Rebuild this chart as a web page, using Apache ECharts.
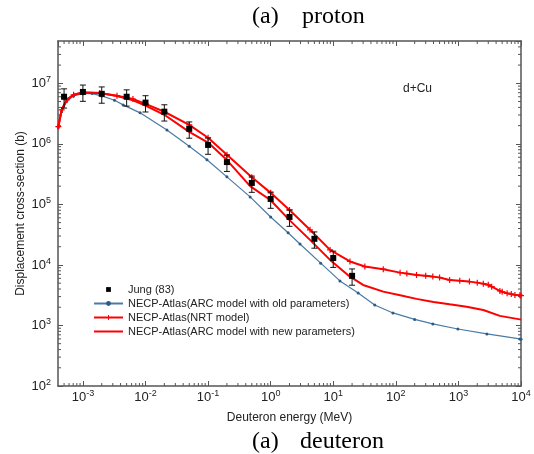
<!DOCTYPE html>
<html><head><meta charset="utf-8">
<script src="https://cdn.jsdelivr.net/npm/echarts@6/dist/echarts.min.js"></script>
<style>html,body{margin:0;padding:0;background:#fff}#c{width:534px;height:454px}</style>
</head><body><div id="c"></div>
<script>
// ---- data (energy in MeV, cross-section in barn) ----
const jungE   = [5e-4, 1e-3, 2e-3, 5e-3, 1e-2, 2e-2, 5e-2, 0.1, 0.2, 0.5, 1, 2, 5, 10, 20];
const jungXS  = [6.0e6, 7.2e6, 6.7e6, 6.0e6, 4.8e6, 3.4e6, 1.77e6, 9.6e5, 5.0e5, 2.26e5, 1.23e5, 6.2e4, 2.7e4, 1.3e4, 6.6e3];
const jungErr = [0.35, 0.3, 0.3, 0.3, 0.3, 0.3, 0.3, 0.3, 0.3, 0.3, 0.3, 0.3, 0.3, 0.3, 0.3];

const arcOldE  = [4.05e-4, 4.57e-4, 5.5e-4, 7.1e-4, 1e-3, 1.4e-3, 2e-3, 3.2e-3, 4.4e-3, 8.2e-3, 2.2e-2, 5e-2, 0.096, 0.2, 0.47, 1, 1.9, 2.94, 6.3, 12.8, 25, 46, 90, 200, 390, 980, 2850, 9600, 1e4];
const arcOldXS = [1.86e6, 3.4e6, 5.0e6, 6.2e6, 6.84e6, 6.76e6, 6.2e6, 5.25e6, 4.4e6, 3.25e6, 1.7e6, 9.1e5, 5.45e5, 2.85e5, 1.33e5, 6.2e4, 3.4e4, 2.22e4, 1.07e4, 5.45e3, 3.44e3, 2.18e3, 1.61e3, 1.26e3, 1.06e3, 875, 724, 600, 590];

const nrtE  = [4.05e-4, 4.57e-4, 5.5e-4, 7.1e-4, 1e-3, 1.86e-3, 3.5e-3, 6.3e-3, 1e-2, 2e-2, 5e-2, 0.1, 0.2, 0.5, 1, 2, 4.25, 8.9, 18.5, 32, 63, 117, 150, 214, 300, 390, 500, 724, 1050, 1500, 2000, 2500, 3000, 3400, 4600, 5000, 6000, 7000, 8000, 9600, 1e4];
const nrtXS = [1.93e6, 3.63e6, 5.33e6, 6.46e6, 7.05e6, 6.89e6, 6.24e6, 5.5e6, 4.57e6, 3.39e6, 2.06e6, 1.26e6, 6.6e5, 2.8e5, 1.55e5, 8.1e4, 3.8e4, 1.77e4, 1.14e4, 9.4e3, 8.5e3, 7.46e3, 7.2e3, 6.84e3, 6.6e3, 6.41e3, 6.2e3, 5.65e3, 5.5e3, 5.3e3, 5.1e3, 4.9e3, 4.7e3, 4.37e3, 3.72e3, 3.6e3, 3.4e3, 3.3e3, 3.2e3, 3.16e3, 3.1e3];

const arcNewE  = [4.05e-4, 4.57e-4, 5.5e-4, 7.1e-4, 1e-3, 1.86e-3, 3.5e-3, 6.3e-3, 1e-2, 2e-2, 5e-2, 0.1, 0.2, 0.47, 1, 2, 4.25, 8.9, 18.5, 30, 63, 117, 214, 400, 724, 1350, 2500, 4600, 9600, 1e4];
const arcNewXS = [1.93e6, 3.63e6, 5.33e6, 6.46e6, 7.05e6, 6.89e6, 6.17e6, 5.25e6, 4.27e6, 3.02e6, 1.58e6, 1.05e6, 5.4e5, 2.0e5, 1.17e5, 5.5e4, 2.59e4, 1.21e4, 6.4e3, 4.67e3, 3.62e3, 3.16e3, 2.75e3, 2.45e3, 2.24e3, 2.04e3, 1.8e3, 1.44e3, 1.26e3, 1.25e3];

const xMin = 4e-4, xMax = 1e4, yMin = 1e2, yMax = 5e7;
const xDecades = [-4, -3, -2, -1, 0, 1, 2, 3];
const yDecades = [2, 3, 4, 5, 6, 7];
const minorMult = [2, 3, 4, 5, 6, 7, 8, 9];

const names = ['Jung (83)', 'NECP-Atlas(ARC model with old parameters)', 'NECP-Atlas(NRT model)', 'NECP-Atlas(ARC model with new parameters)'];

// ---- helpers ----
const zip = (a, b) => a.map((v, i) => [v, b[i]]);
const minorX = [];
xDecades.forEach(d => minorMult.forEach(m => { const v = m * Math.pow(10, d); if (v > xMin && v < xMax) minorX.push(v); }));
const minorY = [];
yDecades.forEach(d => minorMult.forEach(m => { const v = m * Math.pow(10, d); if (v > yMin && v < yMax) minorY.push(v); }));

const axisColor = '#555';
const FONT = '"Liberation Sans", Arial, sans-serif';
function expLabel(v) {
  const l = Math.log10(v), r = Math.round(l);
  if (Math.abs(l - r) > 1e-6) return '';
  return '{b|10}{s|' + r + '}';
}
const richLbl = {
  b: { fontSize: 13, fontFamily: FONT, color: '#222' },
  s: { fontSize: 9, fontFamily: FONT, color: '#222', padding: [0, 0, 7, 0] }
};
const tickCommon = { show: true, inside: true, length: 5, lineStyle: { color: axisColor, width: 1 } };
const lineCommon = { show: true, lineStyle: { color: axisColor, width: 1.5 } };

const chart = echarts.init(document.getElementById('c'), null, { renderer: 'canvas' });
chart.setOption({
  animation: false,
  backgroundColor: '#fff',
  grid: { left: 58, right: 13, top: 41, bottom: 68, containLabel: false },
  xAxis: [
    { type: 'log', logBase: 10, min: xMin, max: xMax, position: 'bottom',
      name: 'Deuteron energy (MeV)', nameLocation: 'middle', nameGap: 26,
      nameTextStyle: { fontSize: 12, fontFamily: FONT, color: '#222' },
      axisLine: lineCommon, axisTick: tickCommon, splitLine: { show: false }, minorTick: { show: false },
      axisLabel: { formatter: expLabel, rich: richLbl, margin: 3, showMinLabel: false, showMaxLabel: true } },
    { type: 'log', logBase: 10, min: xMin, max: xMax, position: 'top',
      axisLine: lineCommon, axisTick: tickCommon, splitLine: { show: false }, axisLabel: { show: false } }
  ],
  yAxis: [
    { type: 'log', logBase: 10, min: yMin, max: yMax, position: 'left',
      name: 'Displacement cross-section (b)', nameLocation: 'middle', nameGap: 31, nameMoveOverlap: false,
      nameTextStyle: { fontSize: 12, fontFamily: FONT, color: '#222' },
      axisLine: lineCommon, axisTick: tickCommon, splitLine: { show: false },
      axisLabel: { formatter: expLabel, rich: richLbl, margin: 7, showMinLabel: true, showMaxLabel: false } },
    { type: 'log', logBase: 10, min: yMin, max: yMax, position: 'right',
      axisLine: lineCommon, axisTick: tickCommon, splitLine: { show: false }, axisLabel: { show: false } }
  ],
  legend: {
    data: [names[0], names[1], names[2], { name: names[3], itemStyle: { color: 'rgba(0,0,0,0)', borderWidth: 0, opacity: 0 } }],
    orient: 'vertical', left: 88, top: 279,
    itemWidth: 29, itemHeight: 6, itemGap: 3,
    textStyle: { fontSize: 11, fontFamily: FONT, color: '#222' },
    selectedMode: false
  },
  graphic: [
    { type: 'text', x: 252, y: 17, style: { text: '(a)', font: '24px "Liberation Serif", "Times New Roman", serif', fill: '#000', textVerticalAlign: 'middle' } },
    { type: 'text', x: 302, y: 17, style: { text: 'proton', font: '24px "Liberation Serif", "Times New Roman", serif', fill: '#000', textVerticalAlign: 'middle' } },
    { type: 'text', x: 252, y: 442, style: { text: '(a)', font: '24px "Liberation Serif", "Times New Roman", serif', fill: '#000', textVerticalAlign: 'middle' } },
    { type: 'text', x: 300, y: 442, style: { text: 'deuteron', font: '24px "Liberation Serif", "Times New Roman", serif', fill: '#000', textVerticalAlign: 'middle' } },
    { type: 'text', x: 403, y: 89, style: { text: 'd+Cu', font: '12px ' + FONT, fill: '#222', textVerticalAlign: 'middle' } }
  ],
  series: [
    { name: names[1], type: 'line', data: zip(arcOldE, arcOldXS), smooth: false,
      symbol: 'circle', symbolSize: 3, showSymbol: true, showAllSymbol: true,
      lineStyle: { color: '#4a7ba5', width: 1.2 }, itemStyle: { color: '#2d5a84' }, z: 3 },
    { name: names[3], type: 'line', data: zip(arcNewE, arcNewXS),
      symbol: 'none', showSymbol: false,
      lineStyle: { color: '#ff0000', width: 2 }, itemStyle: { color: '#ff0000' }, z: 4 },
    { name: names[2], type: 'line', data: zip(nrtE, nrtXS),
      symbol: 'path://M2,0h1v2h2v1h-2v2h-1v-2h-2v-1h2z', symbolSize: 6, showSymbol: true, showAllSymbol: true,
      lineStyle: { color: '#ff0000', width: 2 }, itemStyle: { color: '#ff0000' }, z: 5 },
    { name: names[0], type: 'line', data: zip(jungE, jungXS),
      symbol: 'rect', symbolSize: 6, showSymbol: true, showAllSymbol: true,
      lineStyle: { opacity: 0, width: 0 }, itemStyle: { color: '#000' }, z: 8 },
    { type: 'custom', name: 'err', z: 7, silent: true,
      data: jungE.map((e, i) => [e, jungXS[i] * (1 - jungErr[i]), jungXS[i] * (1 + jungErr[i])]),
      encode: { x: 0, y: [1, 2] },
      renderItem: function (params, api) {
        const lo = api.coord([api.value(0), api.value(1)]);
        const hi = api.coord([api.value(0), api.value(2)]);
        const st = { stroke: '#111', lineWidth: 1 };
        return { type: 'group', children: [
          { type: 'line', shape: { x1: lo[0], y1: lo[1], x2: hi[0], y2: hi[1] }, style: st },
          { type: 'line', shape: { x1: lo[0] - 3, y1: lo[1], x2: lo[0] + 3, y2: lo[1] }, style: st },
          { type: 'line', shape: { x1: hi[0] - 3, y1: hi[1], x2: hi[0] + 3, y2: hi[1] }, style: st }
        ] };
      } },
    { type: 'custom', name: 'minorX', z: 2, silent: true, clip: false,
      data: minorX.map(v => [v, yMin]),
      renderItem: function (params, api) {
        const cs = params.coordSys;
        const x = api.coord([api.value(0), yMin])[0];
        const st = { stroke: axisColor, lineWidth: 1 };
        return { type: 'group', children: [
          { type: 'line', shape: { x1: x, y1: cs.y + cs.height, x2: x, y2: cs.y + cs.height - 3 }, style: st },
          { type: 'line', shape: { x1: x, y1: cs.y, x2: x, y2: cs.y + 3 }, style: st }
        ] };
      } },
    { type: 'custom', name: 'minorY', z: 2, silent: true, clip: false,
      data: minorY.map(v => [1, v]),
      renderItem: function (params, api) {
        const cs = params.coordSys;
        const y = api.coord([1, api.value(1)])[1];
        const st = { stroke: axisColor, lineWidth: 1 };
        return { type: 'group', children: [
          { type: 'line', shape: { x1: cs.x, y1: y, x2: cs.x + 3, y2: y }, style: st },
          { type: 'line', shape: { x1: cs.x + cs.width, y1: y, x2: cs.x + cs.width - 3, y2: y }, style: st }
        ] };
      } }
  ]
});
</script>
</body></html>
